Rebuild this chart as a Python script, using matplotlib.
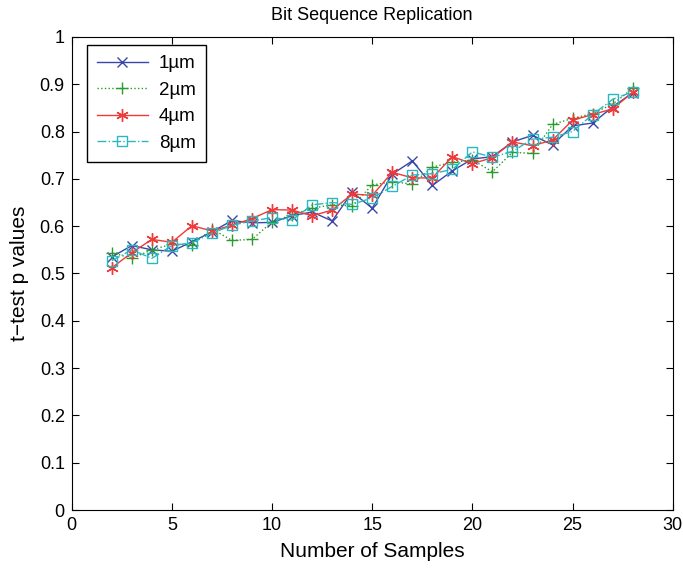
import matplotlib
matplotlib.use('Agg')
import matplotlib.pyplot as plt

plt.rcParams['font.family'] = ['Liberation Sans', 'DejaVu Sans']

samples = list(range(2, 29))
p_1um = [0.535, 0.559, 0.55, 0.547, 0.567, 0.588, 0.612, 0.607, 0.608, 0.622, 0.63, 0.611, 0.672,
         0.638, 0.71, 0.738, 0.686, 0.717, 0.742, 0.747, 0.778, 0.792, 0.772, 0.812, 0.818, 0.852, 0.882]
p_2um = [0.544, 0.532, 0.55, 0.562, 0.56, 0.594, 0.57, 0.572, 0.609, 0.624, 0.638, 0.645, 0.643,
         0.687, 0.694, 0.689, 0.725, 0.735, 0.74, 0.715, 0.756, 0.754, 0.815, 0.828, 0.838, 0.858, 0.891]
p_4um = [0.512, 0.544, 0.572, 0.566, 0.601, 0.59, 0.602, 0.616, 0.635, 0.634, 0.622, 0.634, 0.668,
         0.665, 0.714, 0.702, 0.702, 0.747, 0.732, 0.745, 0.778, 0.77, 0.782, 0.824, 0.836, 0.848, 0.883]
p_8um = [0.527, 0.55, 0.532, 0.559, 0.565, 0.585, 0.602, 0.611, 0.618, 0.613, 0.645, 0.65, 0.646,
         0.66, 0.684, 0.708, 0.711, 0.72, 0.757, 0.746, 0.758, 0.784, 0.788, 0.8, 0.836, 0.868, 0.884]
labels = ['1\u00b5m', '2\u00b5m', '4\u00b5m', '8\u00b5m']

fig = plt.figure(figsize=(6.83, 5.68), dpi=100)
ax = fig.add_axes([0.105, 0.102, 0.88, 0.833])

ax.plot(samples, p_1um, color='#3a46a8', ls='-', lw=1.0, marker='x', ms=7, mew=1.0, label=labels[0])
ax.plot(samples, p_2um, color='#2a9a2a', ls=':', lw=1.0, marker='+', ms=9, mew=1.0, label=labels[1])
ax.plot(samples, p_4um, color='#ee3a3a', ls='-', lw=1.0, marker=(6, 2, 0), ms=9, mew=1.0, label=labels[2])
ax.plot(samples, p_8um, color='#2ab8c0', ls='-.', lw=1.0, marker='s', ms=7, mew=1.0,
        mfc='none', label=labels[3])

ax.set_xlim(0, 30)
ax.set_ylim(0, 1)
ax.set_xticks(range(0, 31, 5))
ax.set_yticks([i / 10 for i in range(11)])
ax.set_yticklabels(['0', '0.1', '0.2', '0.3', '0.4', '0.5', '0.6', '0.7', '0.8', '0.9', '1'])
ax.tick_params(direction='in', top=True, right=True, labelsize=13, length=5, pad=5)

ax.set_title('Bit Sequence Replication', fontsize=13, pad=12)
ax.set_xlabel('Number of Samples', fontsize=15, labelpad=6)
ax.set_ylabel('t\u2212test p values', fontsize=15, labelpad=8)

leg = ax.legend(loc='upper left', bbox_to_anchor=(0.025, 0.983), borderaxespad=0, fontsize=13.5,
                fancybox=False, edgecolor='black', framealpha=1, handlelength=2.7,
                borderpad=0.55, labelspacing=0.5, handletextpad=0.6)
leg.get_frame().set_linewidth(1.0)

fig.savefig('out.png', dpi=100)
